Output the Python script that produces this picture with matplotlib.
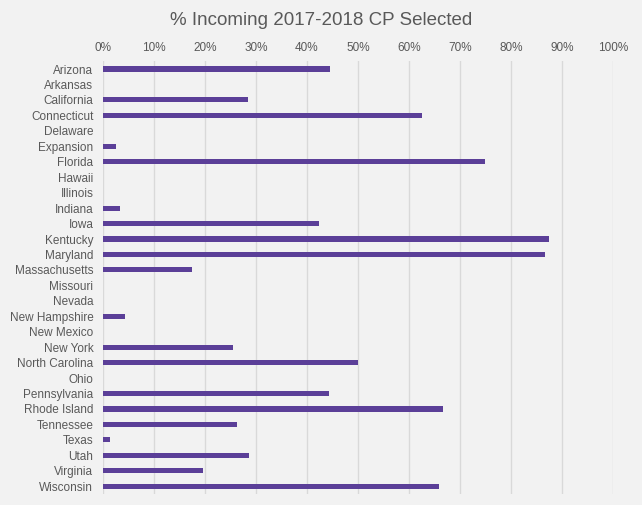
import matplotlib
matplotlib.use("Agg")
import matplotlib.pyplot as plt
from matplotlib.ticker import PercentFormatter

states = ["Arizona", "Arkansas", "California", "Connecticut", "Delaware", "Expansion",
          "Florida", "Hawaii", "Illinois", "Indiana", "Iowa", "Kentucky", "Maryland",
          "Massachusetts", "Missouri", "Nevada", "New Hampshire", "New Mexico", "New York",
          "North Carolina", "Ohio", "Pennsylvania", "Rhode Island", "Tennessee", "Texas",
          "Utah", "Virginia", "Wisconsin"]
pct_selected = [44.5, 0, 28.4, 62.5, 0, 2.5,
                75.0, 0, 0, 3.3, 42.3, 87.4, 86.6,
                17.4, 0, 0, 4.3, 0, 25.4,
                50.0, 0, 44.3, 66.7, 26.2, 1.3,
                28.6, 19.6, 65.9]
x_ticks = list(range(0, 101, 10))

bg = "#f2f2f2"
txt = "#595959"
plt.rcParams["font.family"] = ["Liberation Sans", "DejaVu Sans"]

fig = plt.figure(figsize=(6.42, 5.05), dpi=100, facecolor=bg)
ax = fig.add_axes([0.1604, 0.0218, 0.7944, 0.8568], facecolor=bg)

ypos = list(range(len(states)))
ax.barh(ypos, pct_selected, height=0.33, color="#5b3f98", zorder=3)

ax.set_xlim(0, 100)
ax.set_ylim(len(states) - 0.5, -0.5)
ax.set_xticks(x_ticks)
ax.xaxis.set_major_formatter(PercentFormatter(decimals=0))
ax.xaxis.tick_top()
ax.set_yticks(ypos)
ax.set_yticklabels(states)
ax.tick_params(axis="both", length=0, colors=txt, labelsize=8.5)
ax.tick_params(axis="x", pad=5)
ax.tick_params(axis="y", pad=7)
ax.grid(axis="x", color="#d9d9d9", linewidth=1, zorder=0)
for s in ax.spines.values():
    s.set_visible(False)

fig.text(0.5, 0.96, "% Incoming 2017-2018 CP Selected", ha="center", va="center",
         fontsize=13.5, color=txt)

fig.savefig("out.png", dpi=100, facecolor=bg)
